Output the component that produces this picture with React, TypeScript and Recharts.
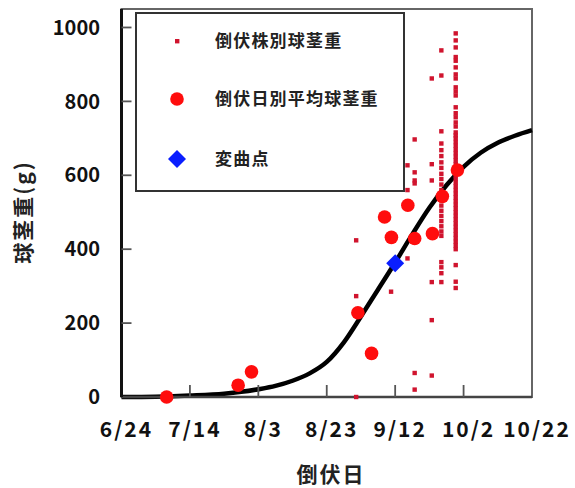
import React from 'react';
import { ComposedChart, Line, Scatter, XAxis, YAxis, ReferenceArea, Label } from 'recharts';

// x values are days counted from 6/24
const dayTicks = [0, 20, 40, 60, 80, 100, 120];
const dateLabels = ['6/24', '7/14', '8/3', '8/23', '9/12', '10/2', '10/22'];
const weightTicks = [0, 200, 400, 600, 800, 1000];

const legendLabels = ['倒伏株別球茎重', '倒伏日別平均球茎重', '変曲点'];

// 倒伏株別球茎重 (one column of plants per lodging day)
const plantColumnDays = [68.6, 78.8, 83.6, 85.7, 90.7, 93.5, 97.7];
const plantColumnWeights = [
  [424, 273, 0],
  [285],
  [627, 560, 375],
  [697, 608, 586, 578, 65, 20],
  [862, 630, 586, 311, 208, 58],
  [938, 870, 719, 686, 668, 652, 635, 620, 604, 590, 575, 560, 546, 532, 518, 504, 490, 476, 462, 448, 436, 365, 351, 335, 311],
  [984, 965, 946, 920, 910, 892, 873, 862, 838, 827, 816, 784, 768, 757, 743, 732, 716, 708, 700, 690, 680, 670, 660, 650,
    640, 630, 620, 610, 600, 590, 580, 570, 560, 550, 540, 530, 520, 510, 500, 490, 480, 470, 460, 450, 440, 430, 420, 410,
    400, 357, 312, 295],
];

// 倒伏日別平均球茎重
const meanDays = [13.2, 34.1, 38.0, 69.1, 73.1, 76.9, 78.9, 83.7, 85.7, 90.9, 93.8, 98.2];
const meanWeights = [0, 32, 68, 228, 118, 487, 432, 519, 429, 442, 543, 614];

// fitted curve
const curveDays = [0, 10, 20, 30, 35, 40, 45, 50, 55, 60, 65, 70, 75, 80, 85, 90, 95, 100, 105, 110, 115, 120];
const curveWeights = [0, 1, 4, 9, 14, 21, 30, 44, 64, 95, 148, 218, 291, 364, 440, 512, 573, 623, 661, 688, 707, 722];

// 変曲点
const inflectionDay = [80];
const inflectionWeight = [362];

const FONT = '"Noto Sans CJK JP", "Noto Sans", sans-serif';
const RED = '#ff0d0d';
const DARK_RED = '#d0142e';
const BLUE = '#0a1eff';
const X_MARGIN = 25;
const Y_MARGIN = 21.5;
const TICK_GRAY = '#555';

const plantData = plantColumnDays.flatMap((d, i) => plantColumnWeights[i].map(w => ({ d, w })));
const meanData = meanDays.map((d, i) => ({ d, w: meanWeights[i] }));
const curveData = curveDays.map((d, i) => ({ d, w: curveWeights[i] }));
const inflectionData = inflectionDay.map((d, i) => ({ d, w: inflectionWeight[i] }));

const PlantMark = (props: any) => {
  const { cx, cy } = props;
  return <rect x={cx - 2.2} y={cy - 2.2} width={4.4} height={4.4} fill={DARK_RED} />;
};

const MeanMark = (props: any) => {
  const { cx, cy } = props;
  return <circle cx={cx} cy={cy} r={6.8} fill={RED} />;
};

const Diamond = ({ cx, cy, r, fill }: { cx: number; cy: number; r: number; fill: string }) => (
  <polygon points={`${cx},${cy - r} ${cx + r},${cy} ${cx},${cy + r} ${cx - r},${cy}`} fill={fill} />
);

const InflectionMark = (props: any) => <Diamond cx={props.cx} cy={props.cy} r={9} fill={BLUE} />;

// ticks point inwards, so the tick mark is drawn together with the label
const DateTick = (props: any) => {
  const { x, y, payload, index } = props;
  const inner = index > 0 && index < dayTicks.length - 1;
  return (
    <g>
      {inner && <line x1={x} x2={x} y1={y - X_MARGIN} y2={y - X_MARGIN - 12} stroke={TICK_GRAY} strokeWidth={1.8} />}
      <text x={x + 5} y={y} dy="0.71em" textAnchor="middle" fontFamily={FONT} fontSize={21} letterSpacing={2} fontWeight={700} fill="#111">
        {dateLabels[dayTicks.indexOf(payload.value)]}
      </text>
    </g>
  );
};

const WeightTick = (props: any) => {
  const { x, y, payload } = props;
  return (
    <g>
      {payload.value > 0 && <line x1={x + Y_MARGIN} x2={x + Y_MARGIN + 10} y1={y} y2={y} stroke={TICK_GRAY} strokeWidth={1.8} />}
      <text x={x} y={y} dy="0.36em" textAnchor="end" fontFamily={FONT} fontSize={20} fontWeight={700} fill="#111">
        {payload.value}
      </text>
    </g>
  );
};

function LegendBox() {
  const rows = [
    { y: 29, mark: <rect x={40} y={27} width={4.4} height={4.4} fill={DARK_RED} /> },
    { y: 87, mark: <circle cx={42} cy={87} r={6.8} fill={RED} /> },
    { y: 147, mark: <Diamond cx={42} cy={147} r={9} fill={BLUE} /> },
  ];
  return (
    <div style={{ position: 'absolute', left: 135, top: 12, width: 270, height: 180, boxSizing: 'border-box', border: '2px solid #333', background: '#fff' }}>
      <svg width={270} height={180} style={{ position: 'absolute', left: -2, top: -2 }}>
        {rows.map((r, i) => (
          <g key={i}>
            {r.mark}
            <text x={80} y={r.y} dy="0.36em" fontFamily={FONT} fontSize={17} letterSpacing={1.2} fontWeight={700} fill="#222">
              {legendLabels[i]}
            </text>
          </g>
        ))}
      </svg>
    </div>
  );
}

export default function App() {
  return (
    <div style={{ position: 'absolute', left: 0, top: 0, width: 575, height: 488, background: '#fff' }}>
      <ComposedChart width={575} height={488} margin={{ top: 9, right: 43, bottom: 31, left: 0 }}>
        <ReferenceArea x1={0} x2={120} y1={0} y2={1050} fill="none" stroke="#666" strokeWidth={2} ifOverflow="visible" />
        <XAxis
          type="number"
          dataKey="d"
          domain={[0, 120]}
          ticks={dayTicks}
          interval={0}
          height={60}
          tick={<DateTick />}
          tickSize={0}
          tickMargin={X_MARGIN}
          tickLine={false}
          axisLine={{ stroke: '#444', strokeWidth: 2.5 }}
        >
          <Label
            content={() => (
              <text x={331} y={476} textAnchor="middle" dominantBaseline="middle" fontFamily={FONT} fontSize={21} letterSpacing={2} fontWeight={700} fill="#222">
                倒伏日
              </text>
            )}
          />
        </XAxis>
        <YAxis
          type="number"
          dataKey="w"
          domain={[0, 1050]}
          ticks={weightTicks}
          interval={0}
          width={121.5}
          tick={<WeightTick />}
          tickSize={0}
          tickMargin={Y_MARGIN}
          tickLine={false}
          axisLine={{ stroke: '#111', strokeWidth: 3 }}
        >
          <Label
            content={() => (
              <text
                x={25}
                y={212}
                transform="rotate(-90 25 212)"
                textAnchor="middle"
                dominantBaseline="middle"
                fontFamily={FONT}
                fontSize={21}
                letterSpacing={2}
                fontWeight={700}
                fill="#222"
              >
                球茎重(g)
              </text>
            )}
          />
        </YAxis>
        <Scatter data={plantData} dataKey="w" shape={PlantMark} isAnimationActive={false} />
        <Line data={curveData} dataKey="w" type="monotone" stroke="#000" strokeWidth={4.5} dot={false} activeDot={false} isAnimationActive={false} />
        <Scatter data={meanData} dataKey="w" shape={MeanMark} isAnimationActive={false} />
        <Scatter data={inflectionData} dataKey="w" shape={InflectionMark} isAnimationActive={false} />
      </ComposedChart>
      <LegendBox />
    </div>
  );
}
